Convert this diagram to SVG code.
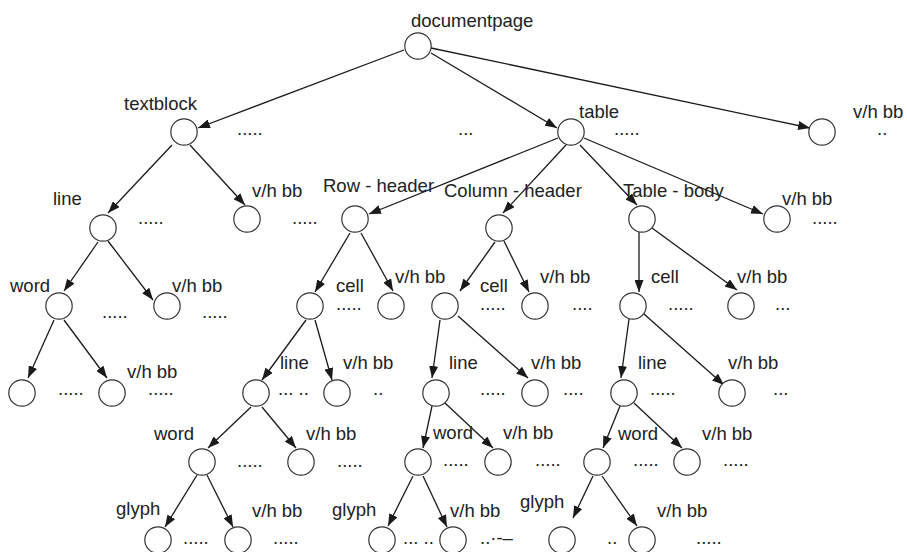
<svg xmlns="http://www.w3.org/2000/svg" width="907" height="552" viewBox="0 0 907 552">
  <defs>
    <marker id="arrow" markerUnits="userSpaceOnUse" markerWidth="12" markerHeight="9" refX="12" refY="4.5" orient="auto">
      <path d="M0,0 L12,4.5 L0,9 z" fill="#1a1a1a"/>
    </marker>
  </defs>
  <style>
    .node circle { fill: #ffffff; stroke: #333333; stroke-width: 1.2; }
    text { font-family: "Liberation Sans", Arial, sans-serif; font-size: 18.5px; fill: #222222; }
    .edges line { stroke: #1a1a1a; stroke-width: 1.3; marker-end: url(#arrow); }
  </style>
  <rect width="907" height="552" fill="#ffffff"/>

  <!-- connectors -->
  <g class="edges">
    <line x1="404" y1="50" x2="198" y2="128"/>
    <line x1="431" y1="53" x2="557" y2="128"/>
    <line x1="431" y1="48" x2="810" y2="128"/>
    <line x1="172" y1="145" x2="108" y2="213"/>
    <line x1="190" y1="145" x2="245" y2="205"/>
    <line x1="558" y1="138" x2="369" y2="214"/>
    <line x1="566" y1="145" x2="503" y2="213"/>
    <line x1="580" y1="145" x2="637" y2="205"/>
    <line x1="584" y1="138" x2="763" y2="214"/>
    <line x1="98" y1="242" x2="64" y2="291"/>
    <line x1="108" y1="241" x2="153" y2="300"/>
    <line x1="54" y1="320" x2="28" y2="378"/>
    <line x1="64" y1="320" x2="107" y2="378"/>
    <line x1="350" y1="233" x2="315" y2="292"/>
    <line x1="361" y1="233" x2="393" y2="291"/>
    <line x1="306" y1="320" x2="262" y2="380"/>
    <line x1="315" y1="320" x2="332" y2="380"/>
    <line x1="495" y1="242" x2="460" y2="291"/>
    <line x1="504" y1="241" x2="529" y2="292"/>
    <line x1="440" y1="320" x2="432" y2="378"/>
    <line x1="458" y1="316" x2="528" y2="378"/>
    <line x1="639" y1="232" x2="639" y2="292"/>
    <line x1="652" y1="228" x2="737" y2="290"/>
    <line x1="629" y1="319" x2="621" y2="378"/>
    <line x1="644" y1="314" x2="724" y2="385"/>
    <line x1="251" y1="407" x2="208" y2="448"/>
    <line x1="262" y1="407" x2="296" y2="448"/>
    <line x1="197" y1="475" x2="165" y2="527"/>
    <line x1="207" y1="475" x2="233" y2="527"/>
    <line x1="432" y1="406" x2="423" y2="448"/>
    <line x1="445" y1="403" x2="493" y2="448"/>
    <line x1="413" y1="476" x2="388" y2="526"/>
    <line x1="423" y1="476" x2="447" y2="527"/>
    <line x1="620" y1="406" x2="603" y2="448"/>
    <line x1="634" y1="403" x2="682" y2="448"/>
    <line x1="593" y1="476" x2="573" y2="518"/>
    <line x1="602" y1="476" x2="637" y2="526"/>
  </g>

  <!-- nodes -->
  <g id="documentpage" class="node"><circle cx="418" cy="46" r="13.2"/><text x="411" y="27">documentpage</text></g>
  <g id="textblock" class="node"><circle cx="184" cy="132" r="13.2"/><text x="124" y="110">textblock</text></g>
  <g id="table" class="node"><circle cx="571" cy="132" r="13.2"/><text x="579" y="118">table</text></g>
  <g id="page-vhbb" class="node"><circle cx="822" cy="132" r="13.2"/><text x="853" y="118">v/h bb</text></g>

  <g id="tb-line" class="node"><circle cx="103" cy="228" r="13.2"/><text x="53" y="205">line</text></g>
  <g id="tb-vhbb" class="node"><circle cx="247" cy="219" r="13.2"/><text x="252" y="197">v/h bb</text></g>
  <g id="row-header" class="node"><circle cx="355" cy="219" r="13.2"/><text x="323" y="192">Row - header</text></g>
  <g id="column-header" class="node"><circle cx="499" cy="228" r="13.2"/><text x="444" y="197">Column - header</text></g>
  <g id="table-body" class="node"><circle cx="642" cy="219" r="13.2"/><text x="623" y="197">Table - body</text></g>
  <g id="table-vhbb" class="node"><circle cx="777" cy="219" r="13.2"/><text x="782" y="205">v/h bb</text></g>

  <g id="tb-word" class="node"><circle cx="59" cy="306" r="13.2"/><text x="10" y="292">word</text></g>
  <g id="tb-line-vhbb" class="node"><circle cx="167" cy="306" r="13.2"/><text x="172" y="292">v/h bb</text></g>
  <g id="row-cell" class="node"><circle cx="310" cy="306" r="13.2"/><text x="336" y="292">cell</text></g>
  <g id="row-vhbb" class="node"><circle cx="391" cy="306" r="13.2"/><text x="395" y="283">v/h bb</text></g>
  <g id="col-cell" class="node"><circle cx="445" cy="306" r="13.2"/><text x="480" y="292">cell</text></g>
  <g id="col-vhbb" class="node"><circle cx="535" cy="306" r="13.2"/><text x="540" y="283">v/h bb</text></g>
  <g id="body-cell" class="node"><circle cx="633" cy="306" r="13.2"/><text x="651" y="283">cell</text></g>
  <g id="body-vhbb" class="node"><circle cx="741" cy="306" r="13.2"/><text x="737" y="283">v/h bb</text></g>

  <g id="tb-glyph" class="node"><circle cx="22" cy="393" r="13.2"/></g>
  <g id="tb-word-vhbb" class="node"><circle cx="112" cy="393" r="13.2"/><text x="127" y="378">v/h bb</text></g>
  <g id="row-line" class="node"><circle cx="256" cy="393" r="13.2"/><text x="280" y="369">line</text></g>
  <g id="row-cell-vhbb" class="node"><circle cx="337" cy="393" r="13.2"/><text x="343" y="369">v/h bb</text></g>
  <g id="col-line" class="node"><circle cx="436" cy="393" r="13.2"/><text x="449" y="369">line</text></g>
  <g id="col-cell-vhbb" class="node"><circle cx="535" cy="393" r="13.2"/><text x="531" y="369">v/h bb</text></g>
  <g id="body-line" class="node"><circle cx="624" cy="393" r="13.2"/><text x="638" y="369">line</text></g>
  <g id="body-cell-vhbb" class="node"><circle cx="732" cy="393" r="13.2"/><text x="728" y="369">v/h bb</text></g>

  <g id="row-word" class="node"><circle cx="202" cy="462" r="13.2"/><text x="154" y="440">word</text></g>
  <g id="row-line-vhbb" class="node"><circle cx="301" cy="462" r="13.2"/><text x="306" y="440">v/h bb</text></g>
  <g id="col-word" class="node"><circle cx="418" cy="462" r="13.2"/><text x="433" y="439">word</text></g>
  <g id="col-line-vhbb" class="node"><circle cx="498" cy="462" r="13.2"/><text x="503" y="439">v/h bb</text></g>
  <g id="body-word" class="node"><circle cx="597" cy="462" r="13.2"/><text x="618" y="440">word</text></g>
  <g id="body-line-vhbb" class="node"><circle cx="687" cy="462" r="13.2"/><text x="702" y="440">v/h bb</text></g>

  <g id="row-glyph" class="node"><circle cx="158" cy="540" r="13.2"/><text x="116" y="515">glyph</text></g>
  <g id="row-word-vhbb" class="node"><circle cx="238" cy="540" r="13.2"/><text x="252" y="517">v/h bb</text></g>
  <g id="col-glyph" class="node"><circle cx="382" cy="540" r="13.2"/><text x="332" y="516">glyph</text></g>
  <g id="col-word-vhbb" class="node"><circle cx="453" cy="540" r="13.2"/><text x="450" y="517">v/h bb</text></g>
  <g id="body-glyph" class="node"><circle cx="562" cy="540" r="13.2"/><text x="520" y="508">glyph</text></g>
  <g id="body-word-vhbb" class="node"><circle cx="642" cy="540" r="13.2"/><text x="657" y="517">v/h bb</text></g>

  <!-- elided siblings -->
  <g id="ellipses">
    <text x="237" y="135">.....</text>
    <text x="458" y="135">...</text>
    <text x="614" y="135">.....</text>
    <text x="877" y="135">..</text>
    <text x="138" y="224">.....</text>
    <text x="292" y="224">.....</text>
    <text x="812" y="224">.....</text>
    <text x="102" y="318">.....</text>
    <text x="202" y="318">.....</text>
    <text x="336" y="310">.....</text>
    <text x="480" y="310">.....</text>
    <text x="572" y="310">....</text>
    <text x="668" y="310">.....</text>
    <text x="775" y="310">...</text>
    <text x="58" y="395">.....</text>
    <text x="148" y="395">.....</text>
    <text x="278" y="395">... ..</text>
    <text x="373" y="395">..</text>
    <text x="480" y="395">.....</text>
    <text x="563" y="395">....</text>
    <text x="650" y="395">.....</text>
    <text x="773" y="395">...</text>
    <text x="237" y="467">.....</text>
    <text x="337" y="467">.....</text>
    <text x="443" y="466">.....</text>
    <text x="535" y="466">.....</text>
    <text x="633" y="466">.....</text>
    <text x="723" y="466">.....</text>
    <text x="183" y="544">.....</text>
    <text x="273" y="544">.....</text>
    <text x="403" y="544">... ..</text>
    <text x="480" y="544">..·-–</text>
    <text x="607" y="544">..</text>
    <text x="696" y="544">.....</text>
  </g>
</svg>
